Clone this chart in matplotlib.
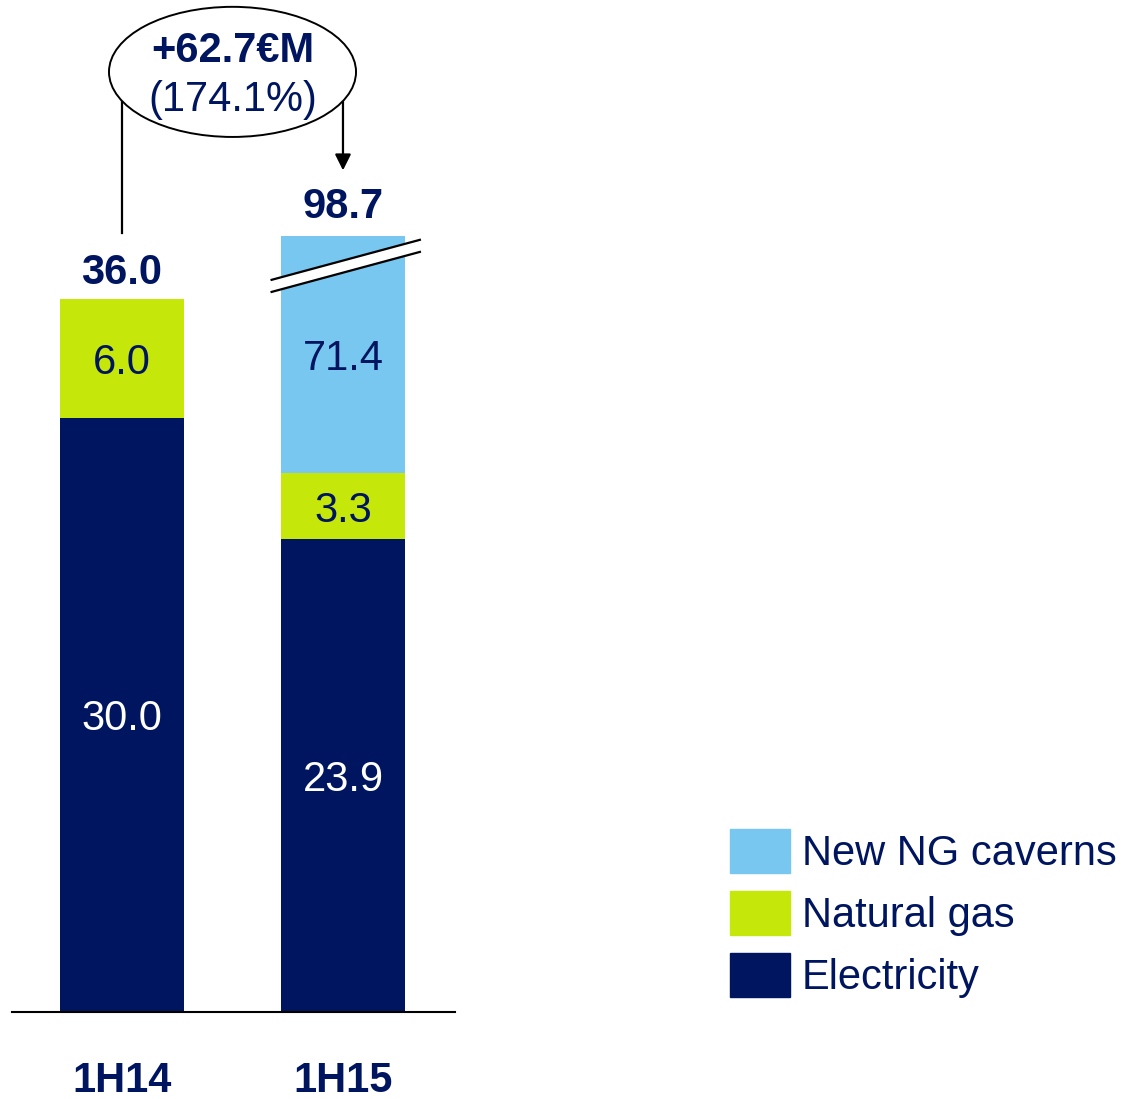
import matplotlib.pyplot as plt
from matplotlib.patches import Ellipse, Patch, Polygon

plt.rcParams['font.family'] = ['Liberation Sans', 'DejaVu Sans']

periods = ['1H14', '1H15']
electricity = [30.0, 23.9]
natural_gas = [6.0, 3.3]
ng_caverns = [0.0, 71.4]
totals = [36.0, 98.7]
delta_label = '+62.7€M'
delta_pct_label = '(174.1%)'

navy = '#00155F'
lime = '#C6E70A'
sky = '#77C7F1'

# the caverns segment is too tall to show, so the bar is cut at this height
cap = 39.2

fig = plt.figure(figsize=(11.27, 10.99), dpi=100)
ax = fig.add_axes([12 / 1127, 87 / 1099, 443 / 1127, 1012 / 1099])

x = [0, 1]
width = 0.56
bottom_gas = electricity
bottom_cav = [e + g for e, g in zip(electricity, natural_gas)]
shown_cav = [min(c, cap - b) if c > 0 else 0 for c, b in zip(ng_caverns, bottom_cav)]

ax.bar(x, electricity, width, color=navy, label='Electricity')
ax.bar(x, natural_gas, width, bottom=bottom_gas, color=lime, label='Natural gas')
ax.bar(x, shown_cav, width, bottom=bottom_cav, color=sky, label='New NG caverns')

for i in x:
    ax.text(i, electricity[i] / 2, f'{electricity[i]:.1f}', ha='center', va='center_baseline',
            fontsize=30, color='white')
    ax.text(i, bottom_gas[i] + natural_gas[i] / 2, f'{natural_gas[i]:.1f}', ha='center',
            va='center_baseline', fontsize=30, color=navy)
    if ng_caverns[i] > 0:
        ax.text(i, bottom_cav[i] + shown_cav[i] / 2, f'{ng_caverns[i]:.1f}', ha='center',
                va='center_baseline', fontsize=30, color=navy)

tops = [b + c for b, c in zip(bottom_cav, shown_cav)]
pads = [4, 6.5]
for i in x:
    ax.annotate(f'{totals[i]:.1f}', (i, tops[i]), xytext=(0, pads[i]), textcoords='offset points',
                ha='center', va='bottom', fontsize=30, fontweight='bold', color=navy)

# break marks across the top of the cut bar
x0, x1 = 0.677, 1.348
up0, up1 = 36.97, 38.99
lo0, lo1 = 36.36, 38.38
ax.add_patch(Polygon([(x0, up0), (x1, up1), (x1, lo1), (x0, lo0)], closed=True,
                     facecolor='white', edgecolor='none', clip_on=False, zorder=3))
ax.plot([x0, x1], [up0, up1], color='black', lw=1.6, clip_on=False, zorder=4)
ax.plot([x0, x1], [lo0, lo1], color='black', lw=1.6, clip_on=False, zorder=4)

# change bubble with connectors
ax.add_patch(Ellipse((0.5, 47.47), 1.118, 6.57, facecolor='white', edgecolor='black',
                     lw=1.4, clip_on=False, zorder=4))
ax.text(0.5, 48.5, delta_label, ha='center', va='center', fontsize=30, fontweight='bold',
        color=navy, zorder=5)
ax.text(0.5, 46.05, delta_pct_label, ha='center', va='center', fontsize=30, color=navy,
        zorder=5)
ax.plot([0, 0], [39.34, 46.16], color='black', lw=1.6, clip_on=False)
ax.annotate('', xy=(1, 42.5), xytext=(1, 46.1),
            arrowprops=dict(arrowstyle='-|>', color='black', lw=1.6, mutation_scale=24,
                            shrinkA=0, shrinkB=0))

ax.set_xlim(-0.498, 1.507)
ax.set_ylim(0, 51.1)
ax.set_xticks(x, periods, fontsize=30, fontweight='bold', color=navy)
ax.tick_params(axis='x', length=0, pad=35)
ax.set_yticks([])
for side in ['left', 'right', 'top']:
    ax.spines[side].set_visible(False)
ax.spines['bottom'].set_linewidth(1.5)

handles = [Patch(color=sky), Patch(color=lime), Patch(color=navy)]
labels = ['New NG caverns', 'Natural gas', 'Electricity']
leg = fig.legend(handles, labels, loc='upper left', bbox_to_anchor=(730 / 1127, 1 - 829 / 1099),
                 frameon=False, fontsize=30, handlelength=1.44, handleheight=1.26,
                 handletextpad=0.29, labelspacing=0.4, borderpad=0, borderaxespad=0)
for t in leg.get_texts():
    t.set_color(navy)

fig.savefig('out.png', dpi=100)
